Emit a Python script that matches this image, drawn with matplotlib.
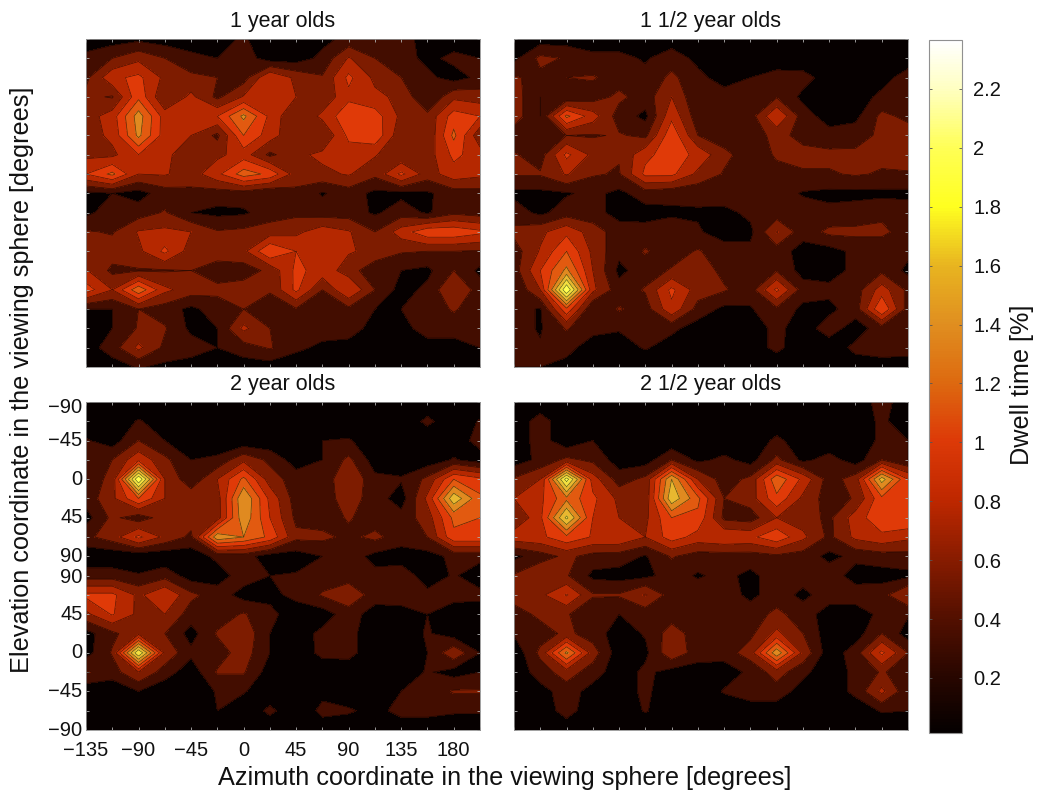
import numpy as np
import matplotlib
matplotlib.use('Agg')
import matplotlib.pyplot as plt
from matplotlib.colors import LinearSegmentedColormap, Normalize
from matplotlib.cm import ScalarMappable

plt.rcParams['font.family'] = ['Liberation Sans', 'DejaVu Sans']

# grid nodes of the maps
azimuth = [-135, -112.5, -90, -67.5, -45, -22.5, 0, 22.5, 45, 67.5, 90, 112.5, 135, 157.5, 180, 202.5]
rows = [0, 1, 2, 3, 4, 5, 6, 7, 8, 9, 10, 11, 12, 13, 14, 15, 16, 17]

x_ticks = [-135, -90, -45, 0, 45, 90, 135, 180]
x_labels = ['\u2212135', '\u221290', '\u221245', '0', '45', '90', '135', '180']
y_ticks = [0.3, 2, 4, 6, 8, 9.1, 11, 13, 15, 17]
y_labels = ['\u221290', '\u221245', '0', '45', '90', '90', '45', '0', '\u221245', '\u221290']

titles = ['1 year olds', '1 1/2 year olds', '2 year olds', '2 1/2 year olds']
levels = [0.0, 0.2, 0.4, 0.6, 0.8, 1.0, 1.2, 1.4, 1.6, 1.8, 2.0, 2.2, 2.4]
band_colors = ['#060000', '#430d00', '#7e1c00', '#b52800', '#e03a08', '#e25a10',
               '#e08a20', '#e8b830', '#f4e040', '#ffff50', '#ffff99', '#ffffd8']
cbar_ticks = [0.2, 0.4, 0.6, 0.8, 1, 1.2, 1.4, 1.6, 1.8, 2, 2.2]
cbar_labels = ['0.2', '0.4', '0.6', '0.8', '1', '1.2', '1.4', '1.6', '1.8', '2', '2.2']

# dwell time per node (row 0 is the top of the panel)
dwell_1 = [
    [.10, .10, .15, .10, .10, .15, .22, .10, .10, .15, .25, .25, .25, .15, .10, .05],
    [.25, .40, .55, .40, .25, .20, .30, .10, .10, .25, .62, .40, .28, .15, .25, .20],
    [.35, .75, .85, .55, .45, .40, .30, .80, .55, .42, .85, .55, .40, .25, .12, .25],
    [.45, .38, .95, .40, .65, .35, .62, .62, .60, .45, .75, .65, .55, .20, .55, .50],
    [.50, .70, 1.3, .70, .70, .80, 1.25, .75, .40, .65, .95, .90, .55, .45, .90, .80],
    [.50, .65, 1.25, .70, .60, .35, 1.0, .70, .42, .40, .85, .95, .45, .42, 1.05, .45],
    [.55, .55, .80, .62, .55, .55, .70, .35, .55, .65, .70, .62, .42, .50, .85, .70],
    [.80, 1.05, .60, .62, .50, .75, 1.1, .95, .50, .55, .62, .45, .85, .50, .72, .65],
    [.15, .20, .12, .30, .35, .30, .30, .20, .35, .18, .30, .15, .15, .17, .30, .32],
    [.15, .30, .30, .42, .20, .15, .17, .30, .35, .30, .30, .17, .30, .17, .35, .30],
    [.42, .38, .62, .65, .60, .42, .45, .50, .55, .72, .62, .40, .70, .95, .95, .85],
    [.45, .50, .55, .85, .50, .50, .55, 1.0, .80, .75, .62, .55, .42, .40, .40, .38],
    [.62, .35, .38, .38, .40, .30, .30, .45, .85, .72, .50, .25, .20, .15, .40, .15],
    [.90, .60, 1.15, .65, .50, .45, .50, .42, .85, .40, .80, .40, .12, .25, .60, .30],
    [.20, .20, .40, .30, .15, .30, .40, .30, .38, .40, .35, .20, .20, .30, .42, .30],
    [.10, .20, .42, .42, .15, .20, .65, .40, .30, .30, .32, .10, .12, .30, .30, .30],
    [.10, .30, .65, .35, .30, .20, .30, .42, .25, .15, .10, .10, .10, .10, .10, .20],
    [.05, .10, .22, .15, .10, .10, .10, .10, .05, .05, .05, .05, .05, .05, .05, .05],
]
dwell_2 = [
    [.10, .10, .10, .10, .10, .10, .10, .10, .05, .05, .05, .05, .05, .05, .05, .05],
    [.15, .45, .38, .25, .25, .18, .30, .15, .08, .05, .05, .05, .05, .05, .05, .08],
    [.42, .35, .40, .42, .30, .25, .45, .25, .12, .20, .30, .28, .10, .10, .12, .30],
    [.50, .20, .22, .30, .45, .30, .60, .22, .28, .28, .38, .15, .10, .10, .25, .25],
    [.50, .20, 1.05, .70, .30, .15, .75, .28, .30, .30, .80, .30, .10, .15, .45, .35],
    [.30, .30, .40, .38, .42, .35, .95, .40, .30, .32, .45, .35, .28, .30, .45, .50],
    [.42, .30, .85, .55, .42, .75, .90, .75, .45, .30, .42, .45, .45, .45, .45, .50],
    [.42, .42, .62, .42, .38, .85, .85, .55, .38, .35, .35, .38, .38, .42, .38, .38],
    [.15, .15, .18, .25, .15, .30, .25, .25, .32, .35, .30, .18, .15, .15, .15, .15],
    [.30, .15, .30, .28, .12, .12, .17, .18, .14, .25, .28, .30, .25, .28, .35, .30],
    [.45, .55, .75, .50, .30, .28, .30, .22, .12, .15, .62, .28, .45, .45, .45, .30],
    [.30, .62, 1.0, .55, .25, .42, .30, .42, .28, .25, .30, .12, .12, .25, .25, .25],
    [.30, .80, 1.25, .60, .15, .30, .42, .50, .35, .25, .38, .12, .12, .25, .35, .15],
    [.20, .60, 2.0, .65, .28, .42, .85, .50, .42, .30, .85, .30, .25, .30, .70, .35],
    [.28, .18, .95, .20, .42, .30, .75, .32, .15, .18, .35, .15, .15, .30, 1.0, .30],
    [.28, .18, .42, .25, .22, .28, .25, .10, .10, .10, .25, .10, .30, .10, .30, .25],
    [.22, .22, .25, .12, .10, .22, .10, .08, .08, .10, .25, .08, .08, .25, .30, .28],
    [.20, .20, .15, .08, .05, .05, .05, .05, .05, .05, .05, .05, .10, .10, .10, .10],
]
dwell_3 = [
    [.05, .05, .05, .05, .05, .05, .05, .05, .05, .05, .05, .05, .05, .05, .05, .05],
    [.05, .05, .22, .10, .05, .05, .05, .05, .05, .05, .05, .05, .05, .25, .05, .22],
    [.22, .10, .40, .20, .05, .05, .05, .05, .05, .20, .22, .08, .05, .05, .08, .28],
    [.25, .40, .75, .45, .20, .25, .55, .35, .10, .20, .45, .10, .08, .08, .22, .10],
    [.30, .45, 2.0, .60, .25, .60, 1.05, .50, .30, .25, .60, .25, .22, .45, 1.0, .85],
    [.28, .55, 1.0, .60, .55, .50, 1.4, .75, .30, .30, .50, .30, .10, .65, 1.55, 1.05],
    [.12, .45, .28, .50, .50, .50, 1.35, .80, .35, .30, .42, .30, .28, .50, 1.05, 1.0],
    [.35, .50, .85, .55, .35, 1.35, 1.2, .95, .45, .45, .35, .45, .30, .40, .95, .95],
    [.05, .05, .05, .05, .08, .25, .28, .10, .10, .20, .30, .14, .10, .12, .25, .25],
    [.30, .30, .22, .32, .10, .10, .30, .20, .22, .30, .30, .25, .32, .10, .22, .10],
    [.85, .85, .55, .80, .45, .30, .12, .15, .25, .42, .55, .30, .30, .25, .25, .25],
    [.55, .82, .55, .60, .30, .30, .42, .25, .10, .10, .30, .10, .12, .20, .12, .10],
    [.12, .35, .55, .40, .12, .42, .55, .20, .10, .25, .25, .10, .10, .22, .10, .10],
    [.12, .42, 1.8, .55, .25, .30, .50, .20, .08, .25, .25, .10, .08, .20, .55, .20],
    [.42, .30, .60, .30, .08, .42, .42, .10, .05, .08, .10, .08, .08, .22, .12, .20],
    [.05, .05, .20, .05, .05, .22, .22, .05, .05, .15, .10, .05, .20, .30, .42, .42],
    [.05, .05, .05, .05, .05, .20, .05, .25, .05, .25, .22, .15, .25, .25, .22, .22],
    [.05, .05, .05, .05, .05, .05, .05, .05, .05, .10, .10, .10, .10, .10, .10, .10],
]
dwell_4 = [
    [.05, .05, .05, .05, .05, .05, .05, .05, .05, .05, .05, .05, .05, .05, .30, .05],
    [.05, .30, .05, .05, .05, .05, .05, .05, .05, .05, .05, .05, .05, .05, .25, .05],
    [.05, .30, .05, .20, .05, .05, .05, .05, .05, .05, .25, .08, .05, .05, .25, .20],
    [.10, .25, .45, .35, .10, .10, .40, .15, .25, .12, .45, .15, .28, .10, .40, .20],
    [.42, .60, 1.9, .70, .30, .45, 1.4, .60, .30, .45, 1.15, .75, .30, .50, 1.5, .80],
    [.60, .75, 1.15, .85, .55, .45, 1.55, 1.05, .40, .50, .95, .55, .30, .42, .95, 1.0],
    [.40, .75, 1.65, .80, .60, .55, 1.0, .95, .35, .30, .60, .50, .35, .70, .95, 1.0],
    [.72, .75, .95, .78, .78, .60, .90, .72, .78, .75, .95, .65, .35, .65, .75, .65],
    [.15, .30, .45, .32, .30, .18, .42, .30, .30, .30, .35, .30, .15, .25, .30, .32],
    [.42, .60, .42, .15, .12, .15, .28, .18, .25, .15, .30, .28, .30, .12, .12, .15],
    [.50, .55, .82, .42, .42, .62, .30, .30, .30, .15, .30, .15, .30, .30, .32, .62],
    [.30, .45, .42, .25, .20, .28, .30, .30, .30, .30, .45, .30, .10, .10, .25, .22],
    [.22, .30, .45, .30, .10, .22, .50, .30, .30, .35, .65, .40, .08, .10, .40, .10],
    [.05, .45, 1.25, .50, .08, .15, .55, .30, .30, .50, 1.35, .55, .08, .30, .85, .40],
    [.05, .30, .50, .30, .08, .25, .12, .10, .08, .25, .50, .25, .08, .25, .42, .30],
    [.05, .12, .30, .12, .08, .25, .05, .05, .22, .30, .30, .12, .08, .25, .65, .25],
    [.05, .05, .30, .05, .05, .22, .05, .05, .05, .10, .10, .05, .05, .08, .22, .20],
    [.05, .05, .05, .05, .05, .05, .05, .05, .05, .05, .05, .05, .05, .05, .05, .05],
]

W, H = 1050, 805

# colorbar colours picked by eye
heat = LinearSegmentedColormap.from_list('heat', [
    (0.0, '#050000'), (0.2 / 2.366, '#2a0700'), (0.4 / 2.366, '#551000'),
    (0.6 / 2.366, '#8a1c00'), (0.8 / 2.366, '#c02800'), (1.0 / 2.366, '#dd3a08'),
    (1.2 / 2.366, '#dd6a10'), (1.4 / 2.366, '#e08f20'), (1.6 / 2.366, '#e8b520'),
    (1.8 / 2.366, '#ffff20'), (2.0 / 2.366, '#ffff55'), (2.2 / 2.366, '#ffffc0'),
    (1.0, '#ffffff')], N=256)
norm = Normalize(0.013, 2.366)


def panel_axes(fig, left, top, right, bottom):
    return fig.add_axes([left / W, 1 - bottom / H, (right - left) / W, (bottom - top) / H])


fig = plt.figure(figsize=(W / 100, H / 100), dpi=100, facecolor='white')
boxes = [(86, 39, 480, 367), (514, 39, 908, 367), (86, 402, 480, 730), (514, 402, 908, 730)]
grids = [dwell_1, dwell_2, dwell_3, dwell_4]

for i in range(4):
    ax = panel_axes(fig, *boxes[i])
    ax.contourf(azimuth, rows, grids[i], levels=levels, colors=band_colors)
    ax.contour(azimuth, rows, grids[i], levels=levels[1:], colors='black', linewidths=0.5, alpha=0.6)
    ax.set_ylim(17, 0)
    ax.set_xticks(azimuth)
    ax.set_yticks(rows)
    ax.set_xticklabels([])
    ax.set_yticklabels([])
    ax.tick_params(direction='in', length=2.5, width=0.6, color='#b0b0b0', top=True, right=True)
    for s in ax.spines.values():
        s.set_color('#909090')
        s.set_linewidth(0.6)
    fig.text((boxes[i][0] + boxes[i][2]) / 2 / W, 1 - (boxes[i][1] - 18) / H, titles[i],
             ha='center', va='center', fontsize=15.5, color='#111111')
    if i == 2:
        for t, lab in zip(x_ticks, x_labels):
            ax.text(t, 17.55, lab, ha='center', va='top', fontsize=14.5, color='#111111', clip_on=False)
        for r, lab in zip(y_ticks, y_labels):
            ax.text(-138, r, lab, ha='right', va='center', fontsize=14.5, color='#111111', clip_on=False)

fig.text(22 / W, 1 - 380 / H, 'Elevation coordinate in the viewing sphere [degrees]',
         rotation=90, ha='center', va='center', fontsize=18.2, color='#111111')
fig.text(505 / W, 1 - 778 / H, 'Azimuth coordinate in the viewing sphere [degrees]',
         ha='center', va='center', fontsize=18.2, color='#111111')

cax = panel_axes(fig, 929, 40, 962, 733)
cb = fig.colorbar(ScalarMappable(norm=norm, cmap=heat), cax=cax)
cb.set_ticks(cbar_ticks)
cb.set_ticklabels(cbar_labels, fontsize=14.5, color='#111111')
cb.ax.tick_params(direction='in', length=2.5, width=0.6, left=True, right=True, pad=8, color='#555555')
cb.outline.set_edgecolor('#909090')
cb.outline.set_linewidth(0.8)
fig.text(1022 / W, 1 - 385 / H, 'Dwell time [%]', rotation=90, ha='center', va='center',
         fontsize=18.2, color='#111111')

fig.savefig('out.png', dpi=100)
